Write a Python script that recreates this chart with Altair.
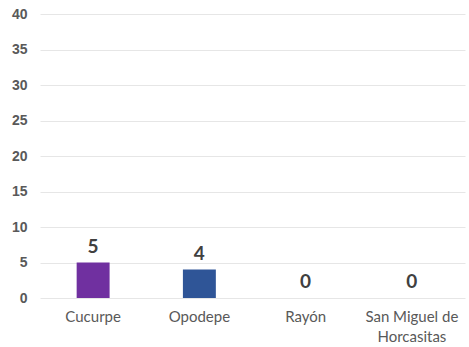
import altair as alt
import pandas as pd

categories = ["Cucurpe", "Opodepe", "Rayón", "San Miguel de Horcasitas"]
values = [5, 4, 0, 0]
colors = ["#7030A0", "#2F5597", "#2F5597", "#2F5597"]

df = pd.DataFrame({"cat": categories, "val": values, "col": colors})

base = alt.Chart(df).encode(
    x=alt.X("cat:N", sort=categories, title=None,
            scale=alt.Scale(paddingInner=0.69, paddingOuter=0.345),
            axis=alt.Axis(labelAngle=0, domain=False, ticks=False, labelPadding=11,
                          labelFont="Lato", labelFontSize=15, labelColor="#595959",
                          labelLimit=200, labelLineHeight=20,
                          labelExpr="datum.label == 'San Miguel de Horcasitas' ? ['San Miguel de', 'Horcasitas'] : datum.label")),
    y=alt.Y("val:Q", title=None,
            scale=alt.Scale(domain=[0, 40]),
            axis=alt.Axis(values=list(range(0, 41, 5)), domain=False, ticks=False,
                          labelPadding=13, labelFont="Liberation Sans", labelFontWeight="bold",
                          labelFontSize=14, labelColor="#595959",
                          gridColor="#E6E6E6", gridWidth=1)),
)

bars = base.mark_bar().encode(color=alt.Color("col:N", scale=None))
text = base.mark_text(baseline="bottom", dy=-6, font="Lato", fontSize=19,
                      fontWeight="bold", color="#404040").encode(text="val:Q")

chart = (bars + text).properties(
    width=425, height=284,
    autosize=alt.AutoSizeParams(type="none"),
    padding={"left": 40, "top": 14, "right": 4, "bottom": 49},
).configure_view(stroke=None)

chart.save("out.html", embed_options={"renderer": "svg", "actions": False})
